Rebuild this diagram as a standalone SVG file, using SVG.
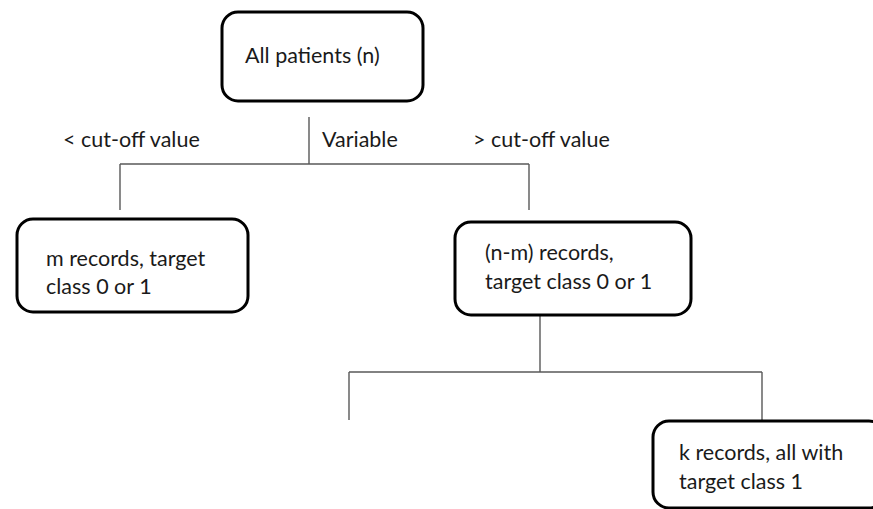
<svg xmlns="http://www.w3.org/2000/svg" width="873" height="509" viewBox="0 0 873 509">
  <style>
    .box { fill: #ffffff; stroke: #000000; stroke-width: 3; }
    .lbl { font-family: Lato, "Open Sans", "Liberation Sans", sans-serif; font-size: 21.5px; fill: #1a1a1a; }
    .wire { fill: none; stroke: #595959; stroke-width: 1.4; }
  </style>
  <rect width="873" height="509" fill="#ffffff"/>

  <!-- connectors of the decision tree -->
  <g id="connectors">
    <path class="wire" d="M309,117 V164 M120,164 H529 M120,164 V210 M529,164 V210"/>
    <path class="wire" d="M540,316 V372 M349,372 H762 M349,372 V420 M762,372 V420"/>
  </g>

  <!-- split labels -->
  <g id="split-labels">
    <text class="lbl" x="63" y="147">&lt; cut-off value</text>
    <text class="lbl" x="322" y="147">Variable</text>
    <text class="lbl" x="473" y="147">&gt; cut-off value</text>
  </g>

  <g id="root">
    <rect class="box" x="222" y="12" width="201" height="89" rx="16"/>
    <text class="lbl" x="245" y="63">All patients (n)</text>
  </g>

  <g id="left-leaf">
    <rect class="box" x="17" y="219" width="231" height="93" rx="16"/>
    <text class="lbl" x="46" y="266">m records, target</text>
    <text class="lbl" x="46" y="294">class 0 or 1</text>
  </g>

  <g id="right-node">
    <rect class="box" x="455" y="222" width="236" height="93" rx="16"/>
    <text class="lbl" x="485" y="260">(n-m) records,</text>
    <text class="lbl" x="485" y="289">target class 0 or 1</text>
  </g>

  <g id="pure-leaf">
    <rect class="box" x="653" y="421" width="232" height="87" rx="16"/>
    <text class="lbl" x="679" y="460">k records, all with</text>
    <text class="lbl" x="679" y="489">target class 1</text>
  </g>
</svg>
